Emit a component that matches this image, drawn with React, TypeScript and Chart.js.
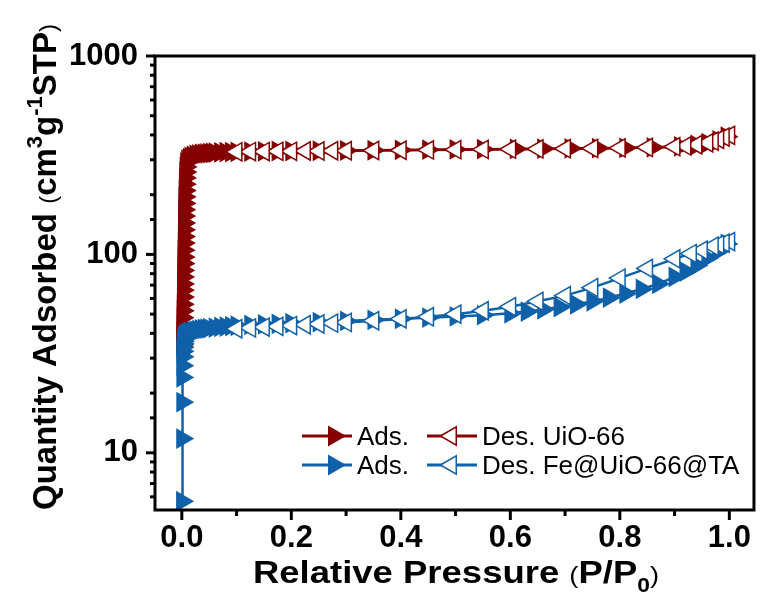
import React, { useEffect, useRef } from 'react';
import { Chart, registerables } from 'chart.js';

Chart.register(...registerables);

const RED = '#860000';
const BLUE = '#0f61a9';
const FONT = '"Liberation Sans", Arial, sans-serif';

// UiO-66 adsorption (filled, right-pointing)
const redAdsX = [0.0006, 0.0008, 0.001, 0.0012, 0.0014, 0.0016, 0.0018, 0.002, 0.0022, 0.0024, 0.0026, 0.0028, 0.003, 0.0032, 0.0034, 0.0036, 0.0038, 0.004, 0.0042, 0.0044, 0.0046, 0.0048, 0.005, 0.0053, 0.0056, 0.006, 0.0065, 0.007, 0.008, 0.01, 0.013, 0.016, 0.02, 0.025, 0.03, 0.035, 0.04, 0.045, 0.05, 0.055, 0.06, 0.07, 0.08, 0.09, 0.1, 0.125, 0.15, 0.175, 0.2, 0.25, 0.3, 0.35, 0.4, 0.45, 0.5, 0.55, 0.61, 0.66, 0.71, 0.76, 0.81, 0.86, 0.91, 0.94, 0.96, 0.98, 0.995];
const redAdsY = [35, 38, 41, 44, 48, 52, 56, 61, 66, 71, 77, 83, 90, 97, 105, 114, 123, 133, 144, 156, 168, 181, 195, 210, 226, 243, 260, 276, 290, 300, 306, 310, 314, 317, 319, 321, 322, 323, 324, 325, 326, 327, 328, 328, 329, 330, 331, 332, 332, 333, 334, 335, 336, 337, 338, 339, 340, 341, 342, 343, 344, 346, 350, 356, 364, 376, 392];
// UiO-66 desorption (open, left-pointing)
const redDesX = [1.0, 0.99, 0.98, 0.97, 0.96, 0.94, 0.92, 0.9, 0.85, 0.8, 0.75, 0.7, 0.65, 0.6, 0.55, 0.5, 0.45, 0.4, 0.35, 0.3, 0.275, 0.25, 0.225, 0.2, 0.175, 0.15, 0.125, 0.1];
const redDesY = [398, 390, 380, 372, 365, 357, 352, 349, 346, 344, 342, 341, 340, 339, 338, 337, 336, 335, 334, 333, 333, 332, 332, 331, 331, 330, 330, 329];
// Fe@UiO-66@TA adsorption
const blueAdsX = [0.0005, 0.0007, 0.0009, 0.001, 0.0011, 0.0012, 0.0013, 0.0015, 0.0017, 0.002, 0.0025, 0.003, 0.004, 0.005, 0.007, 0.009, 0.012, 0.015, 0.02, 0.025, 0.03, 0.035, 0.04, 0.045, 0.05, 0.06, 0.07, 0.08, 0.09, 0.1, 0.125, 0.15, 0.175, 0.2, 0.25, 0.3, 0.35, 0.4, 0.45, 0.5, 0.55, 0.6, 0.63, 0.66, 0.69, 0.72, 0.75, 0.78, 0.81, 0.84, 0.87, 0.9, 0.92, 0.94, 0.96, 0.98, 0.995];
const blueAdsY = [5.7, 11.8, 18, 24, 27.5, 30.5, 32.5, 34, 35.5, 36.5, 37.3, 37.9, 38.5, 39, 39.5, 39.9, 40.3, 40.6, 41, 41.3, 41.6, 41.9, 42.1, 42.3, 42.5, 42.8, 43.1, 43.3, 43.5, 43.7, 44.1, 44.4, 44.7, 45, 45.6, 46.2, 46.8, 47.4, 48, 48.7, 49.4, 50.5, 51.5, 52.8, 54.3, 56, 58, 60.5, 63.5, 67, 71, 77, 82, 88, 96, 104, 113];
// Fe@UiO-66@TA desorption
const blueDesX = [1.0, 0.99, 0.98, 0.97, 0.95, 0.93, 0.9, 0.85, 0.8, 0.75, 0.7, 0.65, 0.6, 0.55, 0.5, 0.45, 0.4, 0.35, 0.3, 0.275, 0.25, 0.225, 0.2, 0.175, 0.15, 0.125, 0.1];
const blueDesY = [116, 114, 112, 110, 105, 101, 95, 85, 76, 68, 62, 58, 54.5, 52, 50, 48.5, 47.3, 46.3, 45.4, 45, 44.6, 44.2, 43.8, 43.4, 43, 42.6, 42.2];

const xMajorTicks = [0, 0.2, 0.4, 0.6, 0.8, 1.0];
const xTickLabels = ['0.0', '0.2', '0.4', '0.6', '0.8', '1.0'];
const yMajorTicks = [10, 100, 1000];
const yTickLabels = ['10', '100', '1000'];
const legendLabels = [['Ads.', 'Des. UiO-66'], ['Ads.', 'Des. Fe@UiO-66@TA']];
const legendColors = [RED, BLUE];

const X_MIN = -0.049, X_MAX = 1.045, Y_MIN = 5.15, Y_MAX = 1000;

type Seg = { t: string; size: number; bold?: boolean; dy?: number };

function drawSegs(ctx: CanvasRenderingContext2D, segs: Seg[], cx: number, baseline: number, sx = 1) {
  const f = (s: Seg) => `${s.bold ? 'bold ' : ''}${s.size}px ${FONT}`;
  let total = 0;
  const widths = segs.map((s) => { ctx.font = f(s); const w = ctx.measureText(s.t).width; total += w; return w; });
  ctx.save();
  ctx.translate(cx, baseline);
  ctx.scale(sx, 1);
  let x = -total / 2;
  segs.forEach((s, i) => { ctx.font = f(s); ctx.fillText(s.t, x, s.dy || 0); x += widths[i]; });
  ctx.restore();
}

function tri(ctx: CanvasRenderingContext2D, x: number, y: number, r: number, right: boolean, color: string, filled: boolean) {
  const d = right ? 1 : -1;
  ctx.beginPath();
  ctx.moveTo(x + d * r, y);
  ctx.lineTo(x - d * r * 0.5, y - r * 0.866);
  ctx.lineTo(x - d * r * 0.5, y + r * 0.866);
  ctx.closePath();
  ctx.fillStyle = filled ? color : '#fff';
  ctx.fill();
  ctx.strokeStyle = color;
  ctx.lineWidth = 1.5;
  ctx.stroke();
}

const decorPlugin = {
  id: 'decor',
  afterDraw(chart: any) {
    const { ctx, chartArea: a, scales } = chart;
    ctx.save();
    ctx.strokeStyle = '#000';
    ctx.lineWidth = 3;
    ctx.strokeRect(a.left, a.top, a.right - a.left, a.bottom - a.top);
    const xs = scales.x;
    xs.ticks.forEach((t: any) => {
      if (t.value < X_MIN || t.value > X_MAX) return;
      const px = xs.getPixelForValue(t.value);
      const major = xMajorTicks.some((m) => Math.abs(m - t.value) < 1e-6);
      ctx.beginPath(); ctx.moveTo(px, a.bottom); ctx.lineTo(px, a.bottom + (major ? 10 : 6)); ctx.stroke();
    });
    const ys = scales.y;
    ys.ticks.forEach((t: any) => {
      if (t.value <= Y_MIN + 1e-6 || t.value > Y_MAX) return;
      const py = ys.getPixelForValue(t.value);
      const major = yMajorTicks.includes(t.value);
      ctx.beginPath(); ctx.moveTo(a.left, py); ctx.lineTo(a.left - (major ? 9 : 5), py); ctx.stroke();
    });

    // axis titles
    ctx.fillStyle = '#000';
    ctx.textAlign = 'left';
    ctx.textBaseline = 'alphabetic';
    drawSegs(ctx, [
      { t: 'Relative Pressure ', size: 32, bold: true },
      { t: '(', size: 24 },
      { t: 'P/P', size: 32, bold: true },
      { t: '0', size: 20, bold: true, dy: 9 },
      { t: ')', size: 24 },
    ], 456, 583, 1.14);
    ctx.save();
    ctx.translate(56, 267);
    ctx.rotate(-Math.PI / 2);
    drawSegs(ctx, [
      { t: 'Quantity Adsorbed ', size: 33, bold: true },
      { t: '(', size: 24 },
      { t: 'cm', size: 33, bold: true },
      { t: '3', size: 22, bold: true, dy: -14 },
      { t: 'g', size: 33, bold: true },
      { t: '-1', size: 22, bold: true, dy: -14 },
      { t: 'STP', size: 33, bold: true },
      { t: ')', size: 24 },
    ], 0, 0);
    ctx.restore();

    // legend
    const rowsY = [436, 465];
    legendLabels.forEach((row, i) => {
      const c = legendColors[i];
      const y = rowsY[i];
      ctx.strokeStyle = c; ctx.lineWidth = 3;
      ctx.beginPath(); ctx.moveTo(302, y); ctx.lineTo(352, y); ctx.stroke();
      tri(ctx, 334, y, 10.5, true, c, true);
      ctx.strokeStyle = c; ctx.lineWidth = 3;
      ctx.beginPath(); ctx.moveTo(427, y); ctx.lineTo(477, y); ctx.stroke();
      tri(ctx, 451, y, 10.5, false, c, false);
      ctx.fillStyle = '#000';
      ctx.font = `26px ${FONT}`;
      ctx.fillText(row[0], 357, y + 9);
      ctx.fillText(row[1], 482, y + 9);
    });
    ctx.restore();
  },
};

function pts(xs: number[], ys: number[]) {
  return xs.map((x, i) => ({ x, y: ys[i] }));
}

export default function App() {
  const ref = useRef<HTMLCanvasElement>(null);
  useEffect(() => {
    if (!ref.current) return;
    const common = { showLine: true, borderWidth: 2.5, pointRadius: 10.5, pointBorderWidth: 1.5, pointStyle: 'triangle' };
    const chart = new Chart(ref.current, {
      type: 'scatter',
      data: {
        datasets: [
          { ...common, label: 'Des. Fe@UiO-66@TA', data: pts(blueDesX, blueDesY), borderColor: BLUE, backgroundColor: '#fff', pointBorderColor: BLUE, pointBackgroundColor: '#fff', pointRotation: 270 },
          { ...common, label: 'Ads. Fe@UiO-66@TA', data: pts(blueAdsX, blueAdsY), borderColor: BLUE, backgroundColor: BLUE, pointBorderColor: BLUE, pointBackgroundColor: BLUE, pointRotation: 90 },
          { ...common, label: 'Des. UiO-66', data: pts(redDesX, redDesY), borderColor: RED, backgroundColor: '#fff', pointBorderColor: RED, pointBackgroundColor: '#fff', pointRotation: 270 },
          { ...common, label: 'Ads. UiO-66', data: pts(redAdsX, redAdsY), borderColor: RED, backgroundColor: RED, pointBorderColor: RED, pointBackgroundColor: RED, pointRotation: 90 },
        ] as any,
      },
      options: {
        animation: false,
        responsive: false,
        events: [],
        layout: { padding: { top: 56, right: 3, left: 0, bottom: 0 }, autoPadding: false },
        plugins: { legend: { display: false }, tooltip: { enabled: false } },
        scales: {
          x: {
            type: 'linear', min: X_MIN, max: X_MAX,
            grid: { display: false, drawTicks: false }, border: { display: false },
            afterFit: (s: any) => { s.height = 86; },
            ticks: {
              stepSize: 0.1, includeBounds: false, autoSkip: false, maxRotation: 0, padding: 10,
              color: '#000', font: { family: FONT, size: 31, weight: 'bold' },
              callback: (v: any) => {
                const i = xMajorTicks.findIndex((m) => Math.abs(m - Number(v)) < 1e-6);
                return i >= 0 ? xTickLabels[i] : '';
              },
            },
          },
          y: {
            type: 'logarithmic', min: Y_MIN, max: Y_MAX,
            grid: { display: false, drawTicks: false }, border: { display: false },
            afterFit: (s: any) => { s.width = 155; },
            ticks: {
              autoSkip: false, padding: 17, color: '#000', font: { family: FONT, size: 31, weight: 'bold' },
              callback: (v: any) => {
                const i = yMajorTicks.findIndex((m) => Math.abs(m - Number(v)) < 1e-6);
                return i >= 0 ? yTickLabels[i] : '';
              },
            },
          },
        },
      } as any,
      plugins: [decorPlugin],
    });
    return () => chart.destroy();
  }, []);
  return (
    <div style={{ position: 'fixed', left: 0, top: 0, width: 761, height: 596, background: '#fff' }}>
      <canvas ref={ref} width={761} height={596} style={{ display: 'block' }} />
    </div>
  );
}
